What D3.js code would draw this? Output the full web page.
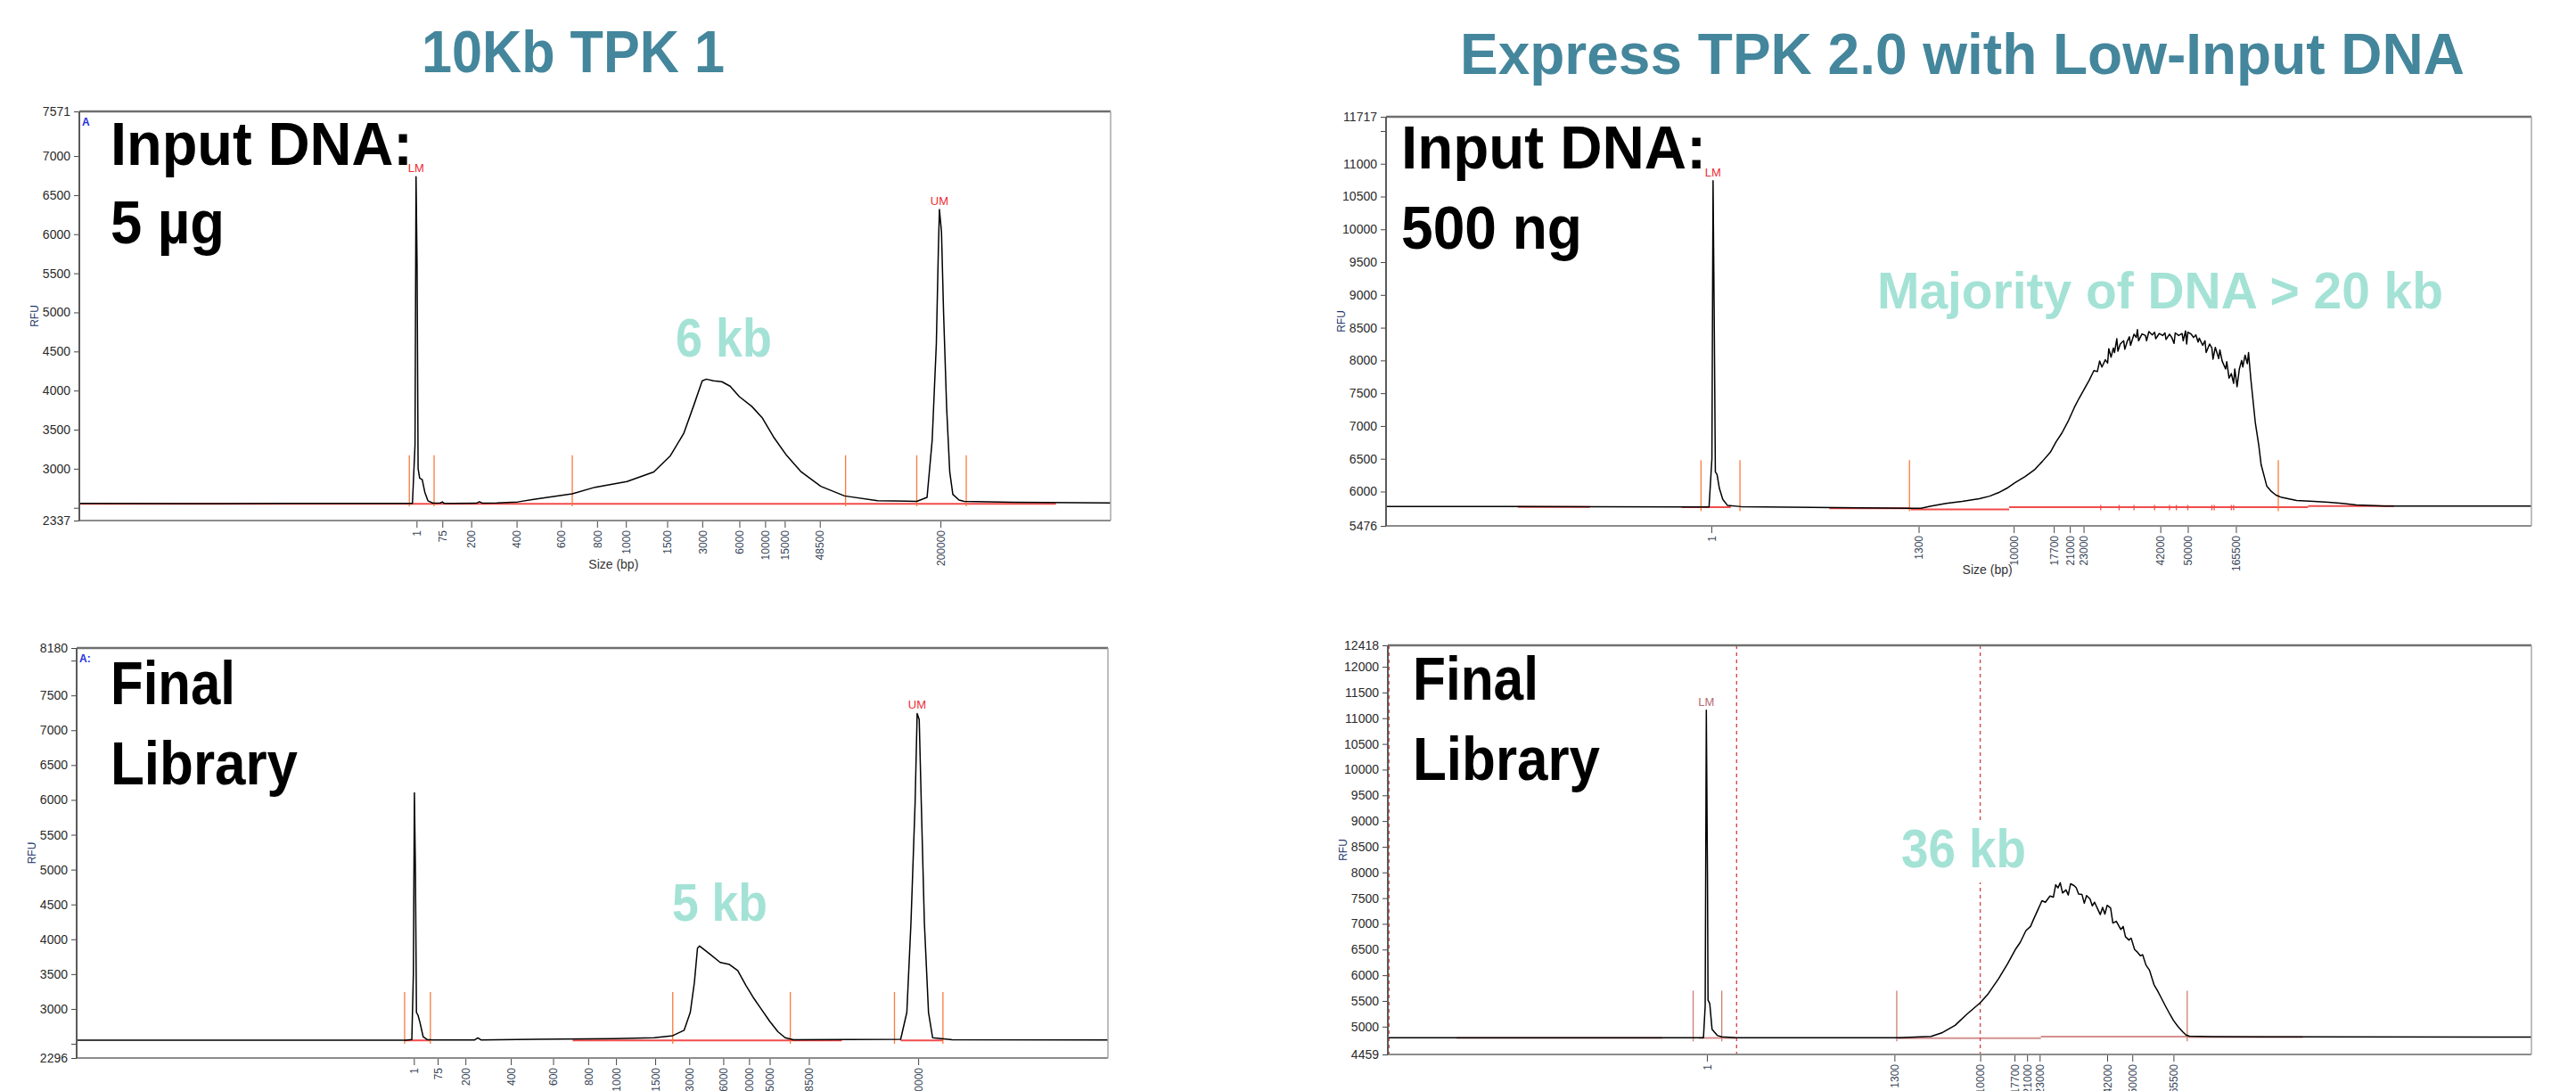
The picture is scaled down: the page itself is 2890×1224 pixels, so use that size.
<!DOCTYPE html>
<html>
<head>
<meta charset="utf-8">
<script src="https://cdn.jsdelivr.net/npm/d3@7"></script>
<style>
  body { margin: 0; background: #fff; }
  svg text { font-family: "Liberation Sans", Arial, sans-serif; }
</style>
</head>
<body>
<svg id="chart" width="2890" height="1224"></svg>
<script>
// x = migration position in % of the run window, y = RFU

var titles = ["10Kb TPK 1", "Express TPK 2.0 with Low-Input DNA"];

// --- 10Kb TPK 1, input DNA ---
var p1YDomain = [2337, 7571];
var p1YTicks = [2337, 2500, 3000, 3500, 4000, 4500, 5000, 5500, 6000, 6500, 7000, 7571];
var p1YHidden = [2500];
var p1XTicks = [32.7, 35.2, 38.0, 42.4, 46.7, 50.2, 53.0, 57.0, 60.4, 64.0, 66.5, 68.4, 71.8, 83.5];
var p1XLabels = ["1", "75", "200", "400", "600", "800", "1000", "1500", "3000", "6000", "10000", "15000", "48500", "200000"];
var p1Markers = [32.0, 34.4, 47.8, 74.3, 81.2, 86.0];
var p1MarkerRange = [2519, 3172];
var p1RedBase = [[0, 94.7, 2552]];
var p1Trace = [
  [0, 2556], [10, 2553], [20, 2556], [32.3, 2556], [32.55, 3300], [32.65, 6736], [32.75, 5600],
  [32.85, 3000], [33.0, 2880], [33.25, 2860], [33.5, 2700], [33.8, 2590], [34.3, 2560], [35.0, 2562],
  [35.2, 2575], [35.4, 2556], [38.5, 2558], [38.8, 2578], [39.1, 2558], [40.5, 2562], [42.5, 2575],
  [44.2, 2610], [47.8, 2679], [50.0, 2763], [53.1, 2836], [55.7, 2959], [57.3, 3164], [58.6, 3450],
  [59.6, 3818], [60.4, 4125], [60.8, 4146], [61.5, 4125], [62.3, 4113], [63.1, 4056], [64.0, 3922],
  [65.2, 3798], [66.2, 3655], [67.3, 3409], [68.5, 3185], [70.0, 2959], [71.9, 2775], [74.2, 2652],
  [77.4, 2591], [81.2, 2583], [82.2, 2633], [82.7, 3368], [83.1, 4597], [83.3, 5824], [83.4, 6316],
  [83.6, 6030], [83.8, 5006], [84.1, 3779], [84.4, 2959], [84.7, 2672], [85.3, 2599], [85.8, 2583],
  [90.5, 2570], [100, 2562]
];

// --- 10Kb TPK 1, final library ---
var p2YDomain = [2296, 8180];
var p2YTicks = [2296, 2500, 3000, 3500, 4000, 4500, 5000, 5500, 6000, 6500, 7000, 7500, 8000, 8180];
var p2YHidden = [2500, 8000];
var p2XTicks = [32.7, 35.0, 37.7, 42.1, 46.2, 49.6, 52.3, 56.1, 59.4, 62.7, 65.2, 67.2, 71.0, 81.6];
var p2XLabels = ["1", "75", "200", "400", "600", "800", "1000", "1500", "3000", "6000", "10000", "15000", "48500", "200000"];
var p2Markers = [31.8, 34.3, 57.8, 69.2, 79.3, 84.0];
var p2MarkerRange = [2500, 3244];
var p2RedBase = [[31.8, 34.3, 2549], [48.1, 74.2, 2549], [79.9, 84.0, 2549]];
var p2Trace = [
  [0, 2553], [15, 2551], [31.9, 2552], [32.5, 2560], [32.65, 3500], [32.75, 6103], [32.85, 4950],
  [32.95, 2950], [33.1, 2910], [33.3, 2800], [33.6, 2600], [34.0, 2560], [34.5, 2556], [38.6, 2556],
  [38.9, 2585], [39.2, 2556], [44.4, 2565], [52.1, 2574], [56.0, 2587], [57.8, 2617], [58.9, 2694],
  [59.5, 2951], [59.9, 3381], [60.2, 3873], [60.4, 3904], [61.4, 3787], [62.4, 3668], [63.3, 3638],
  [64.1, 3551], [64.9, 3337], [65.6, 3166], [66.4, 2995], [67.2, 2823], [68.0, 2673], [68.7, 2587],
  [69.5, 2558], [79.9, 2565], [80.5, 2951], [80.9, 4238], [81.3, 5953], [81.5, 7240], [81.7, 7155],
  [81.9, 5953], [82.2, 4238], [82.6, 2951], [83.0, 2587], [84.9, 2558], [100, 2555]
];

// --- Express TPK 2.0, input DNA ---
var p3YDomain = [5476, 11717];
var p3YTicks = [5476, 6000, 6500, 7000, 7500, 8000, 8500, 9000, 9500, 10000, 10500, 11000, 11500, 11717];
var p3YHidden = [11500];
var p3XTicks = [28.4, 46.5, 54.8, 58.3, 59.7, 60.9, 67.6, 70.0, 74.2];
var p3XLabels = ["1", "1300", "10000", "17700", "21000", "23000", "42000", "50000", "165500"];
var p3Markers = [27.5, 30.9, 45.7, 77.9];
var p3MarkerRange = [5700, 6478];
var p3RedBase = [[11.5, 17.8, 5765], [25.8, 30.1, 5760], [38.7, 45.8, 5745], [45.8, 54.4, 5727], [54.4, 80.5, 5760], [80.5, 88, 5778]];
var p3PeakTicks = [62.4, 64.0, 65.3, 67.1, 68.4, 69.0, 70.0, 72.1, 72.3, 73.8, 74.0];
var p3Trace = [
  [0, 5772], [11.3, 5772], [26.8, 5765], [28.2, 5765], [28.45, 6500], [28.55, 10740], [28.65, 8700],
  [28.75, 6300], [28.9, 6260], [29.1, 6050], [29.4, 5880], [29.8, 5790], [31, 5770], [45.7, 5745],
  [46.7, 5745], [47.5, 5775], [48.9, 5820], [50.3, 5850], [51.8, 5890], [52.7, 5930], [53.5, 5985],
  [54.2, 6050], [54.9, 6135], [55.8, 6230], [56.6, 6330], [57.3, 6460], [58.0, 6600], [58.5, 6760],
  [59.0, 6890], [59.6, 7090], [60.1, 7285], [60.5, 7420], [60.9, 7545], [61.4, 7700], [61.8, 7845],
  [62.1, 7830], [62.3, 7990], [62.5, 7900], [62.8, 8010], [63.0, 7960], [63.1, 8180], [63.3, 8050],
  [63.5, 8190], [63.6, 8120], [63.8, 8330], [63.9, 8140], [64.1, 8250], [64.4, 8300], [64.5, 8170],
  [64.7, 8285], [64.9, 8360], [65.0, 8230], [65.3, 8400], [65.5, 8350], [65.6, 8470], [65.7, 8300],
  [66.0, 8405], [66.3, 8380], [66.4, 8300], [66.6, 8440], [66.9, 8390], [67.1, 8430], [67.2, 8330],
  [67.5, 8410], [67.8, 8380], [68.0, 8420], [68.1, 8320], [68.4, 8400], [68.6, 8350], [68.8, 8260],
  [68.9, 8420], [69.2, 8380], [69.5, 8410], [69.6, 8300], [69.8, 8450], [69.9, 8250], [70.0, 8430],
  [70.3, 8400], [70.5, 8350], [70.7, 8390], [70.9, 8280], [71.0, 8340], [71.3, 8230], [71.5, 8300],
  [71.6, 8120], [71.9, 8250], [72.1, 8190], [72.2, 8020], [72.4, 8200], [72.7, 8030], [72.8, 8160],
  [73.0, 7990], [73.3, 7870], [73.4, 7980], [73.6, 7730], [73.8, 7800], [74.0, 7650], [74.1, 7870],
  [74.3, 7600], [74.5, 7870], [74.7, 8000], [74.8, 7900], [75.0, 8080], [75.2, 7950], [75.3, 8120],
  [75.5, 7720], [75.9, 7040], [76.2, 6700], [76.4, 6410], [76.9, 6080], [77.3, 6000], [77.7, 5945],
  [78.2, 5910], [79.5, 5865], [81.0, 5850], [82.3, 5835], [83.5, 5820], [84.7, 5795], [87.2, 5780],
  [100, 5780]
];

// --- Express TPK 2.0, final library ---
var p4YDomain = [4459, 12418];
var p4YTicks = [4459, 5000, 5500, 6000, 6500, 7000, 7500, 8000, 8500, 9000, 9500, 10000, 10500, 11000, 11500, 12000, 12418];
var p4YHidden = [];
var p4XTicks = [27.9, 44.3, 51.8, 54.8, 55.9, 57.0, 62.9, 65.1, 68.7];
var p4XLabels = ["1", "1300", "10000", "17700", "21000", "23000", "42000", "50000", "165500"];
var p4Markers = [26.7, 29.2, 44.5, 69.9];
var p4MarkerRange = [4713, 5700];
var p4RedBase = [[6, 24, 4778], [27.2, 30.4, 4778], [44.6, 57.1, 4775], [57.1, 70, 4805], [70, 80, 4795]];
var p4Dashed = [0.1, 30.5, 51.8];
var p4Trace = [
  [0, 4782], [27.6, 4785], [27.75, 5400], [27.85, 11155], [27.95, 7900], [28.0, 5515], [28.15, 5450],
  [28.35, 4950], [28.8, 4830], [29.2, 4800], [30.5, 4785], [44.5, 4782], [45.1, 4790], [47.5, 4810],
  [48.5, 4885], [49.6, 5025], [50.6, 5235], [51.8, 5465], [52.5, 5640], [53.4, 5930], [54.2, 6225],
  [54.9, 6510], [55.3, 6640], [55.8, 6870], [56.2, 6950], [56.5, 7105], [56.9, 7300], [57.2, 7450],
  [57.5, 7420], [57.9, 7540], [58.2, 7520], [58.4, 7760], [58.6, 7700], [58.8, 7800], [59.0, 7600],
  [59.3, 7660], [59.5, 7560], [59.7, 7780], [60.0, 7745], [60.2, 7700], [60.4, 7580], [60.7, 7570],
  [60.9, 7400], [61.1, 7550], [61.4, 7485], [61.6, 7350], [61.8, 7420], [62.1, 7275], [62.3, 7180],
  [62.5, 7320], [62.7, 7190], [62.9, 7360], [63.2, 7310], [63.4, 7015], [63.7, 7050], [64.1, 6890],
  [64.3, 6950], [64.5, 6750], [64.8, 6685], [65.0, 6720], [65.3, 6500], [65.5, 6460], [65.8, 6380],
  [66.0, 6400], [66.3, 6195], [66.6, 6100], [67.0, 5815], [67.3, 5700], [67.7, 5530], [68.0, 5400],
  [68.4, 5235], [68.7, 5120], [69.1, 5000], [69.5, 4900], [69.8, 4835], [70.1, 4815], [72, 4805],
  [80, 4800], [100, 4795]
];

var svg = d3.select("#chart");
var teal = "#a4e2d6";

function drawPanel(c) {
  var x = d3.scaleLinear().domain([0, 100]).range([c.left, c.right]);
  var y = d3.scaleLinear().domain(c.yDomain).range([c.bottom, c.top]);
  var g = svg.append("g");

  var ya = g.append("g").attr("transform", "translate(" + c.left + ",0)")
    .call(d3.axisLeft(y).tickValues(c.yTicks).tickSize(6).tickPadding(4)
      .tickFormat(d => c.yHidden.indexOf(d) >= 0 ? "" : d));
  ya.select(".domain").remove();
  ya.selectAll("line").attr("stroke", "#444");
  ya.selectAll("text")
    .attr("font-family", "'Liberation Sans Narrow', 'Liberation Sans', sans-serif")
    .attr("font-size", 14).attr("fill", "#2a2a2a");

  var xa = g.append("g").attr("transform", "translate(0," + c.bottom + ")")
    .call(d3.axisBottom(x).tickValues(c.xTicks).tickSize(8).tickFormat((d, i) => c.xLabels[i]));
  xa.select(".domain").remove();
  xa.selectAll("line").attr("stroke", "#444");
  xa.selectAll("text")
    .attr("transform", "rotate(-90)")
    .attr("text-anchor", "end")
    .attr("x", -11).attr("y", 0).attr("dy", "0.35em")
    .attr("font-size", 12).attr("fill", "#3a4658");

  c.redBase.forEach(s => {
    g.append("line")
      .attr("x1", x(s[0])).attr("x2", x(s[1]))
      .attr("y1", y(s[2])).attr("y2", y(s[2]))
      .attr("stroke", c.redColor).attr("stroke-width", 2);
  });

  c.markers.forEach(m => {
    g.append("line")
      .attr("x1", x(m)).attr("x2", x(m))
      .attr("y1", y(c.markerRange[0])).attr("y2", y(c.markerRange[1]))
      .attr("stroke", c.markerColor).attr("stroke-width", 1.3);
  });

  (c.dashed || []).forEach(m => {
    g.append("line")
      .attr("x1", x(m)).attr("x2", x(m))
      .attr("y1", c.top).attr("y2", c.bottom)
      .attr("stroke", "#d24a4a").attr("stroke-width", 1.4)
      .attr("stroke-dasharray", "4,4");
  });

  (c.peakTicks || []).forEach(m => {
    g.append("line")
      .attr("x1", x(m)).attr("x2", x(m))
      .attr("y1", y(5713)).attr("y2", y(5795))
      .attr("stroke", "#f04848").attr("stroke-width", 1.2);
  });

  g.append("path")
    .datum(c.trace)
    .attr("fill", "none")
    .attr("stroke", "#000")
    .attr("stroke-width", 1.5)
    .attr("stroke-linejoin", "round")
    .attr("d", d3.line().x(d => x(d[0])).y(d => y(d[1])));

  // frame
  g.append("line").attr("x1", c.left).attr("x2", c.right).attr("y1", c.top).attr("y2", c.top)
    .attr("stroke", "#6f6f6f").attr("stroke-width", 2.5);
  g.append("line").attr("x1", c.left).attr("x2", c.right).attr("y1", c.bottom).attr("y2", c.bottom)
    .attr("stroke", "#8c8c8c").attr("stroke-width", 2);
  g.append("line").attr("x1", c.left).attr("x2", c.left).attr("y1", c.top).attr("y2", c.bottom)
    .attr("stroke", "#5a5a5a").attr("stroke-width", 2);
  g.append("line").attr("x1", c.right).attr("x2", c.right).attr("y1", c.top).attr("y2", c.bottom)
    .attr("stroke", "#a8a8a8").attr("stroke-width", 1.5);

  g.append("text")
    .attr("transform", "translate(" + (c.left - 46) + "," + ((c.top + c.bottom) / 2) + ") rotate(-90)")
    .attr("text-anchor", "middle")
    .attr("font-size", 12).attr("fill", "#23336b")
    .text("RFU");

  if (c.sizeLabel) {
    g.append("text")
      .attr("x", x(c.sizeLabel)).attr("y", c.bottom + 54)
      .attr("text-anchor", "middle")
      .attr("font-family", "'Liberation Sans Narrow', 'Liberation Sans', sans-serif")
      .attr("font-size", 14).attr("fill", "#333")
      .text("Size (bp)");
  }

  c.peakLabels.forEach(p => {
    g.append("text")
      .attr("x", x(p.x)).attr("y", y(p.v) - 5)
      .attr("text-anchor", "middle")
      .attr("font-size", 13).attr("fill", c.peakLabelColor)
      .text(p.t);
  });

  if (c.corner) {
    g.append("text")
      .attr("x", c.left + 3).attr("y", c.top + 16)
      .attr("font-size", 12).attr("font-weight", 700).attr("fill", "#1f2ee0")
      .text(c.corner);
  }
  return {x: x, y: y};
}

function bigText(x, yb, str, size, fill, width) {
  return svg.append("text")
    .attr("x", x).attr("y", yb)
    .attr("font-family", "Lato, 'Open Sans', sans-serif")
    .attr("font-weight", 700)
    .attr("font-size", size)
    .attr("fill", fill)
    .attr("textLength", width)
    .attr("lengthAdjust", "spacingAndGlyphs")
    .text(str);
}

drawPanel({
  left: 89, top: 125, right: 1246, bottom: 584,
  yDomain: p1YDomain, yTicks: p1YTicks, yHidden: p1YHidden,
  xTicks: p1XTicks, xLabels: p1XLabels,
  markers: p1Markers, markerRange: p1MarkerRange, markerColor: "#fb7a3c",
  redBase: p1RedBase, redColor: "#f24b4b",
  trace: p1Trace, sizeLabel: 51.8,
  peakLabels: [{x: 32.65, v: 6736, t: "LM"}, {x: 83.4, v: 6316, t: "UM"}],
  peakLabelColor: "#ee2a35", corner: "A"
});

drawPanel({
  left: 86, top: 727, right: 1243, bottom: 1187,
  yDomain: p2YDomain, yTicks: p2YTicks, yHidden: p2YHidden,
  xTicks: p2XTicks, xLabels: p2XLabels,
  markers: p2Markers, markerRange: p2MarkerRange, markerColor: "#fb7a3c",
  redBase: p2RedBase, redColor: "#f24b4b",
  trace: p2Trace,
  peakLabels: [{x: 81.5, v: 7240, t: "UM"}],
  peakLabelColor: "#ee2a35", corner: "A:"
});

drawPanel({
  left: 1555, top: 131, right: 2840, bottom: 590,
  yDomain: p3YDomain, yTicks: p3YTicks, yHidden: p3YHidden,
  xTicks: p3XTicks, xLabels: p3XLabels,
  markers: p3Markers, markerRange: p3MarkerRange, markerColor: "#fb7a3c",
  redBase: p3RedBase, redColor: "#f24b4b", peakTicks: p3PeakTicks,
  trace: p3Trace, sizeLabel: 52.5,
  peakLabels: [{x: 28.55, v: 10740, t: "LM"}],
  peakLabelColor: "#ee2a35"
});

drawPanel({
  left: 1557, top: 724, right: 2840, bottom: 1183,
  yDomain: p4YDomain, yTicks: p4YTicks, yHidden: p4YHidden,
  xTicks: p4XTicks, xLabels: p4XLabels,
  markers: p4Markers, markerRange: p4MarkerRange, markerColor: "#c9806f",
  redBase: p4RedBase, redColor: "#d49090", dashed: p4Dashed,
  trace: p4Trace,
  peakLabels: [{x: 27.85, v: 11155, t: "LM"}],
  peakLabelColor: "#b86a70"
});

// titles
bigText(473, 81, titles[0], 66, "#44869c", 340);
bigText(1638, 83, titles[1], 64, "#44869c", 1127);

// sample labels
bigText(124, 185, "Input DNA:", 68, "#000", 339);
bigText(124, 273, "5 µg", 68, "#000", 128);
bigText(124, 790, "Final", 68, "#000", 140);
bigText(124, 880, "Library", 68, "#000", 210);
bigText(1572, 189, "Input DNA:", 68, "#000", 342);
bigText(1572, 279, "500 ng", 68, "#000", 203);
bigText(1585, 785, "Final", 68, "#000", 141);
bigText(1585, 875, "Library", 68, "#000", 210);

// size annotations
bigText(758, 400, "6 kb", 62, teal, 108);
bigText(754, 1033, "5 kb", 60, teal, 107);
bigText(2106, 346, "Majority of DNA > 20 kb", 58, teal, 635);
var t36 = bigText(2133, 973, "36 kb", 61, teal, 140);
var bb = t36.node().getBBox();
svg.insert("rect", function() { return t36.node(); })
  .attr("x", bb.x - 4).attr("y", bb.y + 4)
  .attr("width", bb.width + 8).attr("height", bb.height)
  .attr("fill", "#fff");
</script>
</body>
</html>
